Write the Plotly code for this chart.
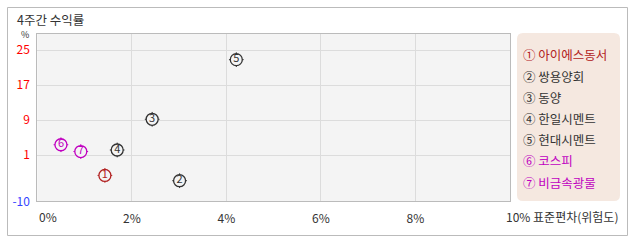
import plotly.graph_objects as go

# ---- data ----
names = ["아이에스동서", "쌍용양회", "동양", "한일시멘트", "현대시멘트", "코스피", "비금속광물"]
marks = ["①", "②", "③", "④", "⑤", "⑥", "⑦"]
digits = ["1", "2", "3", "4", "5", "6", "7"]
std_dev = [1.43, 3.01, 2.43, 1.69, 4.21, 0.50, 0.92]      # 표준편차 (%)
returns = [-3.6, -4.8, 9.2, 2.2, 22.8, 3.4, 1.85]         # 4주간 수익률 (%)
colors = ["#b22222", "#333333", "#333333", "#333333", "#333333", "#c000c0", "#c000c0"]

x_ticks = [0, 2, 4, 6, 8, 10]
y_ticks = [-9.5, 1, 9, 17, 25]
y_tick_labels = ["-10", "1", "9", "17", "25"]
y_tick_colors = ["#3344ff", "#ff0000", "#ff0000", "#ff0000", "#ff0000"]

W, H = 638, 242
FONT = "Noto Sans CJK KR"
PLOT_BG = "#f4f4f4"

def px_x(v):
    return v / W

def px_y(v):
    return 1 - v / H

fig = go.Figure()

# small tick marks behind circles
fig.add_trace(go.Scatter(
    x=std_dev, y=returns, mode="markers",
    marker=dict(symbol="cross-thin", size=10.5, line=dict(color=colors, width=1)),
    hoverinfo="skip", showlegend=False))
# circles with numbers
fig.add_trace(go.Scatter(
    x=std_dev, y=returns, mode="markers+text",
    text=digits, textposition="middle center",
    textfont=dict(family=FONT, size=11, color=colors),
    marker=dict(symbol="circle", size=12, color=PLOT_BG, line=dict(color=colors, width=1.3)),
    customdata=names, hovertemplate="%{customdata}<br>%{x}%, %{y}%<extra></extra>",
    showlegend=False))

x0, x1 = 37.3, 510
y0, y1 = 34, 201.3

fig.update_layout(
    width=W, height=H,
    margin=dict(l=0, r=0, t=0, b=0),
    paper_bgcolor="white",
    plot_bgcolor=PLOT_BG,
    font=dict(family=FONT, size=12, color="#333333"),
    xaxis=dict(
        domain=[px_x(x0), px_x(x1)], range=[0, 10], automargin=False,
        tickvals=x_ticks,
        ticktext=["", "2%", "4%", "6%", "8%", ""],
        showgrid=True, gridcolor="#dcdcdc", gridwidth=1,
        zeroline=False, showline=True, linecolor="#bbbbbb", linewidth=1, mirror=True,
        ticks="", ticklabelstandoff=6,
        tickfont=dict(family=FONT, size=12, color="#333333"),
        fixedrange=True),
    yaxis=dict(
        domain=[px_y(y1), px_y(y0)], range=[-9.5, 28.65], automargin=False,
        tickvals=y_ticks,
        ticktext=[f"<span style='color:{c}'>{t}</span>" for t, c in zip(y_tick_labels, y_tick_colors)],
        showgrid=True, gridcolor="#dcdcdc", gridwidth=1,
        zeroline=False, showline=True, linecolor="#bbbbbb", linewidth=1, mirror=True,
        ticks="", ticklabelstandoff=4,
        tickfont=dict(family=FONT, size=12),
        fixedrange=True),
)

shapes = [
    # outer frame
    dict(type="rect", xref="paper", yref="paper",
         x0=px_x(7.5), x1=px_x(627.5), y0=px_y(235.5), y1=px_y(7.5),
         line=dict(color="#bbbbbb", width=1), fillcolor="rgba(0,0,0,0)", layer="below"),
]
# legend box (rounded) as path
lx0, lx1, ly0, ly1, r = 517, 620, 33, 201, 6
path = (f"M {px_x(lx0 + r)},{px_y(ly0)} L {px_x(lx1 - r)},{px_y(ly0)} "
        f"Q {px_x(lx1)},{px_y(ly0)} {px_x(lx1)},{px_y(ly0 + r)} "
        f"L {px_x(lx1)},{px_y(ly1 - r)} Q {px_x(lx1)},{px_y(ly1)} {px_x(lx1 - r)},{px_y(ly1)} "
        f"L {px_x(lx0 + r)},{px_y(ly1)} Q {px_x(lx0)},{px_y(ly1)} {px_x(lx0)},{px_y(ly1 - r)} "
        f"L {px_x(lx0)},{px_y(ly0 + r)} Q {px_x(lx0)},{px_y(ly0)} {px_x(lx0 + r)},{px_y(ly0)} Z")
shapes.append(dict(type="path", xref="paper", yref="paper", path=path,
                   fillcolor="#f5e8e0", line=dict(width=0), layer="below"))
fig.update_layout(shapes=shapes)

annotations = [
    dict(text="4주간 수익률", x=px_x(16), y=px_y(19.5), xref="paper", yref="paper",
         xanchor="left", yanchor="middle", showarrow=False, borderpad=0,
         font=dict(family=FONT, size=12.5, color="#333333")),
    dict(text="%", x=px_x(25), y=px_y(34.5), xref="paper", yref="paper",
         xanchor="center", yanchor="middle", showarrow=False, borderpad=0,
         font=dict(family=FONT, size=9, color="#333333")),
    dict(text="0%", x=px_x(37), y=px_y(216.5), xref="paper", yref="paper",
         xanchor="left", yanchor="middle", showarrow=False,
         font=dict(family=FONT, size=12, color="#333333")),
    dict(text="10% 표준편차(위험도)", x=px_x(504), y=px_y(216.5), xref="paper", yref="paper",
         xanchor="left", yanchor="middle", showarrow=False,
         font=dict(family=FONT, size=12, color="#333333")),
]
leg_y = [54, 76.5, 97.5, 118.5, 139.5, 160.5, 182]
for m, n, c, yy in zip(marks, names, colors, leg_y):
    annotations.append(dict(text=f"{m} {n}", x=px_x(521), y=px_y(yy), xref="paper", yref="paper",
                            xanchor="left", yanchor="middle", showarrow=False,
                            font=dict(family=FONT, size=12.5, color=c)))
fig.update_layout(annotations=annotations)

fig.write_html("out.html")
